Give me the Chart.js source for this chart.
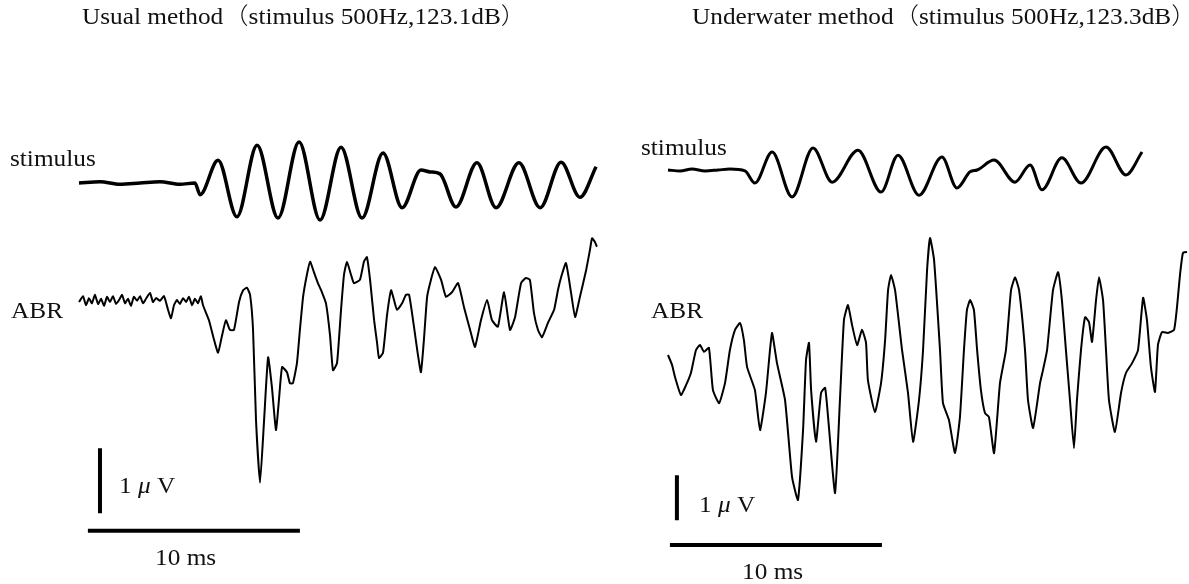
<!DOCTYPE html>
<html>
<head>
<meta charset="utf-8">
<script src="https://cdn.jsdelivr.net/npm/chart.js@4"></script>
<style>
  body { margin: 0; background: #fff; }
  #wrap { position: relative; width: 1189px; height: 584px; overflow: hidden; font-family: "Liberation Serif", "Noto Sans CJK JP", serif; color: #111; }
  .panel { position: absolute; top: 0; }
  .lbl { position: absolute; white-space: nowrap; line-height: 1; font-size: 23px; transform-origin: left center; transform: translateY(-50%) scaleX(1.1); }
  .mu { font-style: italic; }
  .paren { font-family: "Noto Sans CJK JP", sans-serif; font-weight: 300; }
</style>
</head>
<body>
<div id="wrap">
  <div class="panel" style="left:0;width:600px;height:584px;"><canvas id="leftChart" width="600" height="584"></canvas></div>
  <div class="panel" style="left:600px;width:589px;height:584px;"><canvas id="rightChart" width="589" height="584"></canvas></div>

  <div class="lbl" style="left:82px;top:15px;">Usual method<span class="paren">（</span>stimulus 500Hz,123.1dB<span class="paren">）</span></div>
  <div class="lbl" style="left:692px;top:15px;">Underwater method<span class="paren">（</span>stimulus 500Hz,123.3dB<span class="paren">）</span></div>

  <div class="lbl" style="left:10px;top:158px;">stimulus</div>
  <div class="lbl" style="left:11px;top:310px;">ABR</div>
  <div class="lbl" style="left:641px;top:147px;">stimulus</div>
  <div class="lbl" style="left:651px;top:310px;">ABR</div>

  <div class="lbl" style="left:119px;top:485px;">1 <span class="mu">μ</span> V</div>
  <div class="lbl" style="left:155px;top:557px;">10 ms</div>
  <div class="lbl" style="left:699px;top:504px;">1 <span class="mu">μ</span> V</div>
  <div class="lbl" style="left:742px;top:571px;">10 ms</div>
</div>

<script>
// time in ms, amplitude in µV (stimulus in arbitrary units)
const leftStimT = [0, 0.99, 1.93, 2.88, 3.82, 4.76, 5.47, 5.71, 6.56, 7.45, 8.40, 9.39, 10.38, 11.37, 12.36, 13.35, 14.34, 15.24, 16.13, 16.56, 17.03, 17.78, 18.77, 19.67, 20.75, 21.75, 22.74, 23.63, 24.39];
const leftStimV = [0, 0.02, -0.02, 0, 0.02, -0.02, 0, -0.18, 0.35, -0.52, 0.58, -0.54, 0.63, -0.57, 0.55, -0.54, 0.46, -0.38, 0.20, 0.17, 0.14, -0.37, 0.31, -0.38, 0.31, -0.38, 0.32, -0.22, 0.25];

const leftAbrT = [0.00, 0.19, 0.33, 0.47, 0.61, 0.75, 0.90, 1.04, 1.18, 1.32, 1.46, 1.60, 1.75, 1.89, 2.03, 2.17, 2.31, 2.45, 2.59, 2.74, 2.88, 3.02, 3.16, 3.35, 3.49, 3.63, 3.82, 4.01, 4.20, 4.34, 4.48, 4.62, 4.76, 4.91, 5.05, 5.19, 5.33, 5.47, 5.61, 5.75, 5.85,
  6.13, 6.37, 6.56, 6.75, 6.93, 7.12, 7.31, 7.55, 7.74, 7.92, 8.07, 8.21, 8.35, 8.54, 8.73, 8.92, 9.10, 9.29, 9.43, 9.58, 9.81, 9.95, 10.09, 10.28, 10.42, 10.57, 10.75, 10.90, 11.08, 11.27, 11.46, 11.65, 11.84, 11.98, 12.17, 12.36, 12.50, 12.64, 12.83, 12.97, 13.25, 13.44, 13.58, 13.73, 13.92, 14.06, 14.15, 14.34, 14.53, 14.72, 14.86, 15.00, 15.24, 15.42, 15.57, 15.80, 15.99, 16.13, 16.27, 16.42, 16.60, 16.79, 17.08, 17.31, 17.59, 17.88, 18.16, 18.49, 18.68, 18.96, 19.25, 19.48, 19.76, 20.05, 20.33, 20.57, 20.85, 21.08, 21.27, 21.46, 21.65, 21.84, 22.12, 22.41, 22.59, 22.74, 22.97, 23.21, 23.40, 23.63, 23.92, 24.10, 24.20, 24.34, 24.43];
const leftAbrV = [0.00, 0.09, -0.05, 0.06, -0.02, 0.11, -0.03, 0.05, -0.06, 0.08, 0, 0.09, -0.03, 0.03, 0.11, -0.02, 0.05, -0.06, 0.08, 0.02, 0.09, -0.02, 0.05, 0.14, 0, 0.06, 0.02, 0.09, -0.12, -0.25, -0.05, 0.03, -0.03, 0.06, 0, 0.08, -0.05, 0.05, -0.02, 0.09, -0.05,
  -0.28, -0.58, -0.78, -0.51, -0.28, -0.43, -0.43, 0, 0.18, 0.22, 0.11, -0.43, -1.82, -2.78, -1.82, -0.85, -1.31, -1.97, -1.51, -1.00, -1.08, -1.25, -1.25, -0.94, -0.43, 0.08, 0.42, 0.62, 0.46, 0.29, 0.15, -0.02, -0.51, -1.05, -0.94, -0.12, 0.42, 0.62, 0.42, 0.29, 0.34, 0.62, 0.69, 0.34, -0.28, -0.63, -0.86, -0.78, -0.20, 0.18, 0.03, -0.12, -0.02, 0.11, 0.11, -0.38, -0.82, -1.08, -0.58, 0.08, 0.34, 0.54, 0.34, 0.08, 0.15, 0.29, -0.08, -0.48, -0.69, -0.28, 0.03, -0.28, -0.38, 0.15, -0.43, -0.23, 0.29, 0.37, 0.34, -0.17, -0.43, -0.54, -0.32, -0.12, 0.18, 0.38, 0.60, 0.14, -0.23, 0.08, 0.49, 0.80, 0.98, 0.92, 0.85];

const rightStimT = [0, 0.57, 1.13, 1.75, 2.36, 2.92, 3.63, 4.10, 4.91, 5.85, 6.84, 7.74, 8.96, 10.05, 10.85, 11.84, 12.92, 13.63, 14.25, 14.58, 15.38, 16.37, 17.08, 17.64, 18.58, 19.48, 20.66, 21.60, 22.36];
const rightStimV = [0, -0.02, 0.02, -0.02, 0, 0.02, -0.02, -0.29, 0.40, -0.60, 0.49, -0.27, 0.44, -0.49, 0.33, -0.56, 0.29, -0.40, -0.04, 0, 0.22, -0.27, 0.11, -0.44, 0.27, -0.29, 0.51, -0.11, 0.40];

const rightAbrT = [0.00, 0.19, 0.33, 0.61, 0.85, 1.08, 1.32, 1.51, 1.70, 1.93, 2.12, 2.41, 2.69, 2.92, 3.16, 3.40, 3.58, 3.73, 4.10, 4.34, 4.62, 4.81, 4.91, 5.14, 5.52, 5.85, 6.13, 6.37, 6.51, 6.65, 6.75, 6.98, 7.22, 7.41, 7.55, 7.88, 8.11, 8.30, 8.49, 8.68, 8.92, 9.15, 9.34, 9.43, 9.76, 10.05, 10.24, 10.38, 10.52, 10.71, 11.04, 11.32, 11.56, 11.84, 12.03, 12.22, 12.36, 12.55, 12.83, 12.97, 13.25, 13.54, 13.77, 13.96, 14.10, 14.25, 14.43, 14.58, 14.76, 14.95, 15.14, 15.38, 15.66, 15.94, 16.18, 16.37, 16.56, 16.84, 16.98, 17.22, 17.55, 17.69, 17.88, 18.16, 18.40, 18.58, 18.77, 18.96, 19.15, 19.29, 19.48, 19.67, 19.86, 20.00, 20.19, 20.33, 20.52, 20.66, 20.80, 21.08, 21.37, 21.60, 21.89, 22.17, 22.41, 22.59, 22.78, 22.97, 23.11, 23.30, 23.58, 23.87, 24.01, 24.15, 24.29, 24.48];
const rightAbrV = [0.00, -0.22, -0.49, -0.89, -0.67, -0.40, 0.11, 0.22, 0.07, 0.16, -0.78, -1.07, -0.62, 0.11, 0.56, 0.71, 0.33, -0.27, -0.78, -1.67, -0.84, 0.11, 0.49, -0.18, -1.00, -2.71, -3.22, -1.67, -0.11, 0.27, -0.78, -1.93, -0.84, -0.73, -1.38, -3.07, -1.00, 0.78, 1.11, 0.67, 0.22, 0.56, 0.27, -0.56, -1.27, -0.62, 0.33, 1.44, 1.78, 1.44, 0.11, -0.84, -1.93, -1.00, 0.11, 1.89, 2.60, 2.11, 0.11, -1.07, -1.44, -2.18, -1.38, 0.11, 1.00, 1.22, 1.00, 0.11, -0.78, -1.29, -1.38, -2.18, -0.62, 0.11, 1.44, 1.73, 1.44, 0.11, -1.00, -1.62, -0.62, -0.33, 0.11, 1.44, 1.84, 1.22, 0.11, -1.00, -2.07, -1.00, 0.11, 0.84, 0.73, 0.29, 1.22, 1.73, 1.22, 0.11, -1.00, -1.71, -0.84, -0.40, -0.18, 0.11, 1.27, 0.78, -0.27, -0.82, 0.22, 0.51, 0.49, 0.56, 1.07, 1.78, 2.27, 2.29];

// scale bars: 1 µV vertical, 10 ms horizontal
const BAR_UV = 1;
const BAR_MS = 10;

function toPoints(t, v, offset) {
    return t.map((x, i) => ({ x: x, y: v[i] + offset }));
}

function trace(data, width, smooth) {
    return {
        data: data,
        borderColor: '#000',
        borderWidth: width,
        pointRadius: 0,
        fill: false,
        tension: smooth ? 0.4 : 0.15,
        cubicInterpolationMode: smooth ? 'monotone' : 'default',
        borderJoinStyle: 'round'
    };
}

function bar(data) {
    return {
        data: data,
        borderColor: '#000',
        borderWidth: 4,
        pointRadius: 0,
        fill: false,
        tension: 0,
        borderCapStyle: 'butt'
    };
}

function makePanel(id, p) {
    const ctx = document.getElementById(id).getContext('2d');
    return new Chart(ctx, {
        type: 'line',
        data: {
            datasets: [
                trace(toPoints(p.stimT, p.stimV, p.stimOffset), p.stimWidth, true),
                trace(toPoints(p.abrT, p.abrV, 0), 2, false),
                bar([{ x: p.vBarT, y: p.vBarTop }, { x: p.vBarT, y: p.vBarTop - BAR_UV }]),
                bar([{ x: p.hBarT, y: p.hBarY }, { x: p.hBarT + BAR_MS, y: p.hBarY }])
            ]
        },
        options: {
            responsive: false,
            animation: false,
            parsing: false,
            layout: { padding: 0 },
            plugins: { legend: { display: false }, tooltip: { enabled: false } },
            scales: {
                x: { type: 'linear', display: false, min: p.xMin, max: p.xMax },
                y: { type: 'linear', display: false, min: p.yMin, max: p.yMax }
            }
        }
    });
}

makePanel('leftChart', {
    stimT: leftStimT, stimV: leftStimV, abrT: leftAbrT, abrV: leftAbrV,
    stimOffset: 1.831, stimWidth: 3.5,
    xMin: -3.726, xMax: 24.575, yMin: -4.338, yMax: 4.646,
    vBarT: 0.99, vBarTop: -2.25, hBarT: 0.42, hBarY: -3.52
});

makePanel('rightChart', {
    stimT: rightStimT, stimV: rightStimV, abrT: rightAbrT, abrV: rightAbrV,
    stimOffset: 4.111, stimWidth: 3,
    xMin: -3.208, xMax: 24.575, yMin: -5.089, yMax: 7.889,
    vBarT: 0.42, vBarTop: -2.67, hBarT: 0.09, hBarY: -4.22
});
</script>
</body>
</html>
